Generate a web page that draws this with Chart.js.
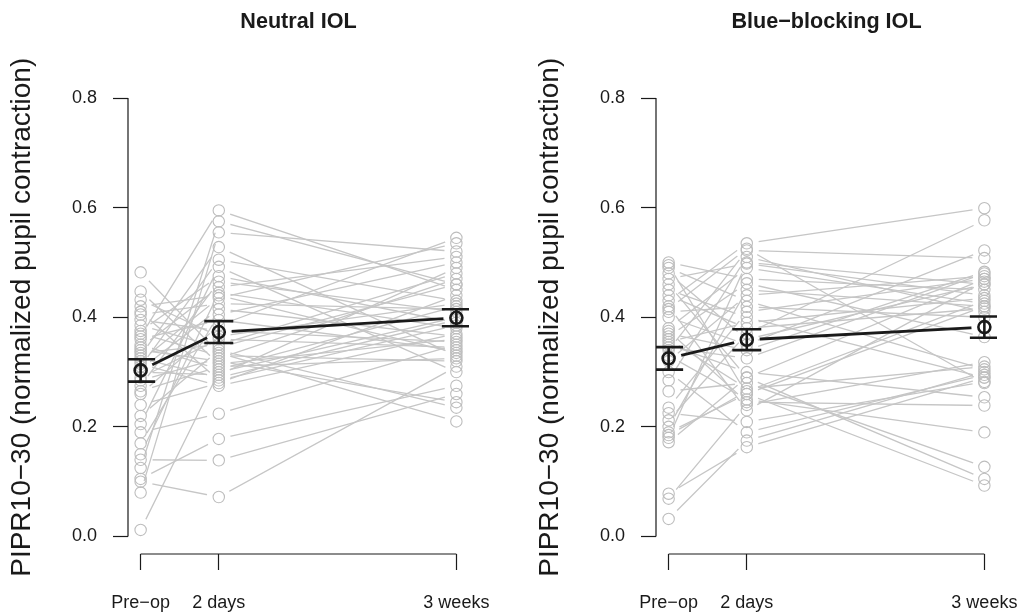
<!DOCTYPE html>
<html><head><meta charset="utf-8">
<script src="https://cdn.jsdelivr.net/npm/chart.js@4.4.1/dist/chart.umd.min.js"></script>
<style>
html,body{margin:0;padding:0;background:#fff;overflow:hidden;width:1023px;height:616px;position:relative;}
#c1{position:absolute;left:0;top:0;}
#c2{position:absolute;left:528px;top:0;}
</style></head><body>
<canvas id="c1" width="528" height="616"></canvas>
<canvas id="c2" width="555" height="616"></canvas>
<script>
// ---- categories / ticks ----
const timeLabels = ['Pre\u2212op', '2 days', '3 weeks'];
const timePos = [0, 1, 4.04];
const yTickValues = [0, 0.2, 0.4, 0.6, 0.8];
const yTickLabels = ['0.0', '0.2', '0.4', '0.6', '0.8'];
const panelTitles = ['Neutral IOL', 'Blue\u2212blocking IOL'];
const yAxisTitle = 'PIPR10\u221230 (normalized pupil contraction)';

// ---- Neutral IOL: one value per subject at each time ----
const neutralPreop  = [0.012,0.08,0.10,0.105,0.125,0.14,0.15,0.17,0.19,0.205,0.22,0.24,0.26,0.265,0.275,0.285,0.29,0.30,0.305,0.31,0.315,0.32,0.325,0.33,0.335,0.34,0.345,0.35,0.36,0.365,0.37,0.375,0.385,0.395,0.405,0.41,0.42,0.432,0.447,0.482];
const neutral2days  = [0.30,0.555,0.072,0.178,0.575,0.139,0.445,0.405,0.224,0.492,0.34,0.28,0.385,0.31,0.465,0.325,0.36,0.295,0.415,0.505,0.275,0.435,0.29,0.528,0.35,0.32,0.455,0.305,0.395,0.595,0.33,0.475,0.345,0.375,0.425,0.285,0.44,0.365,0.315,0.335];
const neutral3weeks = [0.40,0.52,0.31,0.275,0.46,0.26,0.38,0.50,0.35,0.30,0.235,0.44,0.545,0.325,0.41,0.47,0.345,0.49,0.365,0.43,0.37,0.535,0.395,0.33,0.48,0.245,0.51,0.42,0.34,0.45,0.32,0.39,0.46,0.355,0.415,0.385,0.335,0.425,0.36,0.21];
const neutralMean = [0.303, 0.373, 0.399];
const neutralSE   = [0.0205, 0.020, 0.0155];

// ---- Blue-blocking IOL ----
const bluePreop  = [0.032,0.069,0.078,0.172,0.18,0.19,0.20,0.212,0.225,0.235,0.265,0.285,0.30,0.32,0.33,0.34,0.35,0.355,0.36,0.365,0.37,0.375,0.38,0.40,0.41,0.42,0.43,0.44,0.45,0.46,0.47,0.48,0.49,0.495,0.50,0.345,0.185,0.415];
const blue2days  = [0.175,0.24,0.163,0.29,0.50,0.26,0.45,0.37,0.209,0.41,0.28,0.51,0.19,0.44,0.25,0.522,0.30,0.39,0.27,0.462,0.34,0.245,0.49,0.35,0.419,0.23,0.535,0.38,0.40,0.29,0.498,0.36,0.43,0.26,0.47,0.325,0.265,0.525];
const blue3weeks = [0.30,0.318,0.29,0.105,0.46,0.093,0.42,0.577,0.282,0.47,0.127,0.41,0.295,0.475,0.19,0.508,0.254,0.435,0.31,0.364,0.483,0.239,0.425,0.522,0.40,0.465,0.599,0.416,0.29,0.47,0.44,0.46,0.305,0.42,0.45,0.48,0.43,0.28];
const blueMean = [0.325, 0.359, 0.382];
const blueSE   = [0.0205, 0.019, 0.0195];

const FONT = "'Liberation Sans', Arial, Helvetica, sans-serif";
const INK = '#1a1a1a';

const gapPlugin = {
  id: 'gapPlugin',
  beforeDatasetDraw(chart, args) {
    const ds = chart.data.datasets[args.index];
    if (!ds.gap) return;
    const ctx = chart.ctx;
    ctx.save();
    ctx.beginPath();
    ctx.rect(0, 0, chart.width, chart.height);
    for (const el of args.meta.data) {
      ctx.moveTo(el.x + ds.gap, el.y);
      ctx.arc(el.x, el.y, ds.gap, 0, Math.PI * 2);
    }
    ctx.clip('evenodd');
  },
  afterDatasetDraw(chart, args) {
    if (chart.data.datasets[args.index].gap) chart.ctx.restore();
  }
};

const axisLinePlugin = {
  id: 'axisLinePlugin',
  beforeDatasetsDraw(chart) {
    const {ctx, chartArea, scales: {x, y}} = chart;
    ctx.save();
    ctx.strokeStyle = INK;
    ctx.lineWidth = 1.2;
    ctx.beginPath();
    ctx.moveTo(chartArea.left, y.getPixelForValue(yTickValues[0]));
    ctx.lineTo(chartArea.left, y.getPixelForValue(yTickValues[yTickValues.length - 1]));
    ctx.moveTo(x.getPixelForValue(timePos[0]), chartArea.bottom);
    ctx.lineTo(x.getPixelForValue(timePos[timePos.length - 1]), chartArea.bottom);
    ctx.stroke();
    ctx.restore();
  }
};

function makePanel(canvasId, title, pre, d2, w3, mean, se, rightPad) {
  const cols = [pre, d2, w3];
  const datasets = [];
  datasets.push({
    data: mean.map((m, i) => ({x: timePos[i], y: m})),
    borderColor: INK, borderWidth: 2.8, pointRadius: 0, gap: 13, order: 0
  });
  datasets.push({
    data: mean.map((m, i) => ({x: timePos[i], y: m})),
    showLine: false, pointRadius: 6, pointBorderWidth: 2.6,
    pointBorderColor: INK, pointBackgroundColor: 'rgba(0,0,0,0)', order: 0
  });
  mean.forEach((m, i) => {
    datasets.push({
      data: [{x: timePos[i], y: m - se[i]}, {x: timePos[i], y: m + se[i]}],
      borderColor: INK, borderWidth: 2.6, pointRadius: 0, order: 0
    });
  });
  datasets.push({
    data: mean.flatMap((m, i) => [{x: timePos[i], y: m - se[i]}, {x: timePos[i], y: m + se[i]}]),
    showLine: false, pointStyle: 'line', pointRadius: 14.5, pointBorderWidth: 2.6,
    pointBorderColor: INK, order: 0
  });
  datasets.push({
    data: cols.flatMap((c, j) => c.map(v => ({x: timePos[j], y: v}))),
    showLine: false, pointRadius: 5.7, pointBorderWidth: 1.1,
    pointBorderColor: '#bdbdbd', pointBackgroundColor: 'rgba(0,0,0,0)', order: 1
  });
  pre.forEach((v, i) => {
    datasets.push({
      data: [{x: timePos[0], y: pre[i]}, {x: timePos[1], y: d2[i]}, {x: timePos[2], y: w3[i]}],
      borderColor: '#c6c6c6', borderWidth: 1.3, pointRadius: 0, gap: 12, order: 2
    });
  });

  const span = timePos[timePos.length - 1] - timePos[0];
  const ySpan = yTickValues[yTickValues.length - 1] - yTickValues[0];

  return new Chart(document.getElementById(canvasId), {
    type: 'line',
    data: {datasets},
    plugins: [gapPlugin, axisLinePlugin],
    options: {
      responsive: false,
      animation: false,
      events: [],
      layout: {padding: {left: 0, right: rightPad, top: 0, bottom: 0}},
      elements: {line: {tension: 0}},
      plugins: {
        legend: {display: false},
        tooltip: {enabled: false},
        title: {
          display: true, text: title, fullSize: false, color: INK,
          font: {family: FONT, size: 21.6, weight: 'bold'},
          padding: {top: 9.5, bottom: 45.1}
        }
      },
      scales: {
        x: {
          type: 'linear',
          min: timePos[0] - 0.04 * span,
          max: timePos[timePos.length - 1] + 0.04 * span,
          afterBuildTicks: s => { s.ticks = timePos.map(v => ({value: v})); },
          afterFit: s => { s.height = 62; },
          border: {display: false},
          grid: {display: true, drawOnChartArea: false, drawTicks: true, tickLength: 16, tickColor: INK, tickWidth: 1.2},
          ticks: {
            callback: (v, i) => timeLabels[i], color: INK, padding: 22, maxRotation: 0, autoSkip: false,
            font: {family: FONT, size: 18}
          }
        },
        y: {
          type: 'linear',
          min: yTickValues[0] - 0.04 * ySpan,
          max: yTickValues[yTickValues.length - 1] + 0.04 * ySpan,
          afterBuildTicks: s => { s.ticks = yTickValues.map(v => ({value: v})); },
          afterFit: s => { s.width = 128; },
          border: {display: false},
          grid: {display: true, drawOnChartArea: false, drawTicks: true, tickLength: 15, tickColor: INK, tickWidth: 1.2},
          ticks: {
            callback: (v, i) => yTickLabels[i], color: INK, padding: 16,
            font: {family: FONT, size: 18}
          },
          title: {
            display: true, text: yAxisTitle, color: INK,
            font: {family: FONT, size: 28},
            padding: {top: 5, bottom: 0}
          }
        }
      }
    }
  });
}

makePanel('c1', panelTitles[0], neutralPreop, neutral2days, neutral3weeks, neutralMean, neutralSE, 59);
makePanel('c2', panelTitles[1], bluePreop, blue2days, blue3weeks, blueMean, blueSE, 86);
</script>
</body></html>
